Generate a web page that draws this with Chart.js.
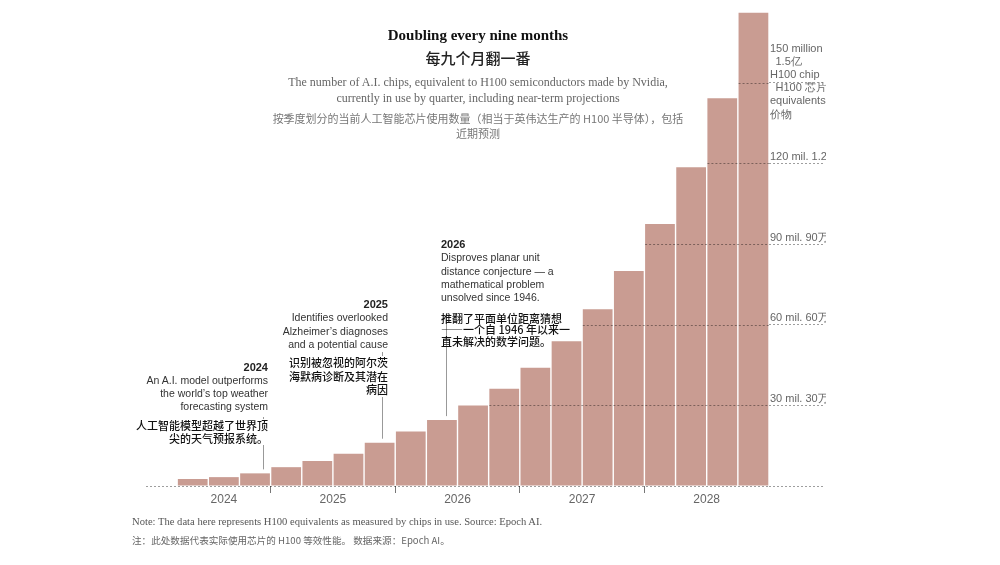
<!DOCTYPE html>
<html lang="zh">
<head>
<meta charset="UTF-8">
<title>Doubling every nine months</title>
<script src="https://cdn.jsdelivr.net/npm/chart.js@4.4.1/dist/chart.umd.min.js"></script>
<style>
    body { margin: 0; background: #fff; }
    #wrap { position: relative; width: 1000px; height: 565px; overflow: hidden; font-family: 'Liberation Sans', Arial, sans-serif; }
    #chart { position: absolute; left: 0; top: 0; }
    .t { position: absolute; white-space: nowrap; }
    .head { left: 0; width: 956px; text-align: center; }
    #title { top: 26px; font: bold 15px/18px 'Liberation Serif', serif; color: #111; }
    #title-zh { top: 48px; font: 500 15px/20px 'Noto Sans CJK SC', sans-serif; color: #222; }
    #sub { top: 74px; font: 12px/16px 'Liberation Serif', serif; color: #666; }
    #sub-zh { top: 111px; font: 11px/15px 'Noto Sans CJK SC', sans-serif; color: #777; }
    .en { font-size: 10.5px; color: #333; }
    .en b { color: #222; font-size: 11px; }
    .zh { font: 500 11px 'Noto Sans CJK SC', sans-serif; color: #111; background: #fff; }
    .note { left: 132px; font-family: 'Liberation Serif', serif; color: #555; }
    #note { top: 514px; font-size: 10.6px; line-height: 15px; }
    #note-zh { top: 533px; font: 9.6px/14px 'Noto Sans CJK SC', sans-serif; color: #666; }
</style>
</head>
<body>
<div id="wrap">
    <canvas id="chart" width="826" height="565"></canvas>

    <div class="t head" id="title">Doubling every nine months</div>
    <div class="t head" id="title-zh">每九个月翻一番</div>
    <div class="t head" id="sub">The number of A.I. chips, equivalent to H100 semiconductors made by Nvidia,<br>currently in use by quarter, including near-term projections</div>
    <div class="t head" id="sub-zh">按季度划分的当前人工智能芯片使用数量（相当于英伟达生产的 H100 半导体），包括<br>近期预测</div>

    <div class="t en" style="right:732px; top:361px; line-height:13px; text-align:right;"><b>2024</b><br>An A.I. model outperforms<br>the world’s top weather<br>forecasting system</div>
    <div class="t zh" style="right:732px; top:418.5px; line-height:13px; text-align:right;">人工智能模型超越了世界顶<br>尖的天气预报系统。</div>

    <div class="t en" style="right:612px; top:298px; line-height:13.3px; text-align:right;"><b>2025</b><br>Identifies overlooked<br>Alzheimer’s diagnoses<br>and a potential cause</div>
    <div class="t zh" style="right:612px; top:356px; line-height:13.7px; text-align:right;">识别被忽视的阿尔茨<br>海默病诊断及其潜在<br>病因</div>

    <div class="t en" style="left:441px; top:238px; line-height:13.3px;"><b>2026</b><br>Disproves planar unit<br>distance conjecture — a<br>mathematical problem<br>unsolved since 1946.</div>
    <div class="t zh" style="left:441px; top:312.5px; line-height:11.7px; background:none;">推翻了平面单位距离猜想<br>——一个自 1946 年以来一<br>直未解决的数学问题。</div>

    <div class="t note" id="note">Note: The data here represents H100 equivalents as measured by chips in use. Source: Epoch AI.</div>
    <div class="t note" id="note-zh">注：此处数据代表实际使用芯片的 H100 等效性能。 数据来源：Epoch AI。</div>
</div>

<script>
    // H100-equivalent chips in use, millions, by quarter
    const quarters = ['2024 Q2', '2024 Q3', '2024 Q4',
        '2025 Q1', '2025 Q2', '2025 Q3', '2025 Q4',
        '2026 Q1', '2026 Q2', '2026 Q3', '2026 Q4',
        '2027 Q1', '2027 Q2', '2027 Q3', '2027 Q4',
        '2028 Q1', '2028 Q2', '2028 Q3', '2028 Q4'];
    const chips = [2.6, 3.3, 4.7, 7.0, 9.3, 12.0, 16.1, 20.3, 24.5, 29.9,
        36.2, 44.0, 53.8, 65.7, 80.0, 97.4, 118.5, 144.2, 176.0];

    // x axis: year labels and year breaks, in quarter units (0 = 2024 Q1)
    const years = ['2024', '2025', '2026', '2027', '2028'];
    const yearLabelAt = [2, 5.5, 9.5, 13.5, 17.5];
    const yearBreaks = [3.5, 7.5, 11.5, 15.5];

    // y axis ticks
    const yTicks = [0, 30, 60, 90, 120, 150];
    const yTickLabels = ['', '30 mil. 30万', '60 mil. 60万', '90 mil. 90万', '120 mil. 1.2亿',
        ['150 million', '\u20021.5亿', 'H100 chip', '\u2002H100 芯片', 'equivalents', '价物']];

    // annotation leader lines (quarter position)
    const annoAt = [3.25, 7.08, 9.13];
    const annoTop = [417, 352, 318];

    function quarterPos(q) {
        const [y, qq] = q.split(' Q');
        return (parseInt(y) - 2024) * 4 + parseInt(qq) - 1;
    }

    const sans = "'Liberation Sans', Arial, sans-serif";
    const isBlock = v => Array.isArray(yTickLabels[yTicks.indexOf(v)]);

    const partialGrid = {
        id: 'partialGrid',
        afterDatasetsDraw(chart) {
            const { ctx, chartArea, scales: { x, y } } = chart;
            const bars = chart.getDatasetMeta(0).data;
            ctx.save();
            ctx.strokeStyle = 'rgba(0,0,0,0.38)';
            ctx.lineWidth = 1;
            ctx.setLineDash([2, 2]);
            yTicks.forEach(v => {
                let x0 = chartArea.left;
                if (v > 0) {
                    const b = bars[chips.findIndex(c => c >= v)];
                    x0 = b.x - b.width / 2;
                }
                const py = Math.round(y.getPixelForValue(v)) + 0.5;
                ctx.beginPath();
                ctx.moveTo(x0, py);
                ctx.lineTo(chartArea.right, py);
                ctx.stroke();
            });
            // leader lines
            ctx.setLineDash([]);
            ctx.strokeStyle = '#999';
            annoAt.forEach((p, i) => {
                const px = Math.round(x.getPixelForValue(p)) + 0.5;
                const bottom = y.getPixelForValue(chips[Math.round(p) - 1]) - 4;
                ctx.beginPath();
                ctx.moveTo(px, annoTop[i]);
                ctx.lineTo(px, bottom);
                ctx.stroke();
            });
            ctx.restore();
        }
    };

    new Chart(document.getElementById('chart'), {
        type: 'bar',
        data: {
            datasets: [{
                data: quarters.map((q, i) => ({ x: quarterPos(q), y: chips[i] })),
                backgroundColor: '#c99c92',
                borderWidth: 0,
                barPercentage: 0.955,
                categoryPercentage: 1
            }]
        },
        options: {
            responsive: false,
            animation: false,
            layout: { padding: { left: 146, top: 2, right: 0, bottom: 49 } },
            plugins: { legend: { display: false }, tooltip: { enabled: false } },
            scales: {
                x: {
                    type: 'linear',
                    min: -0.5,
                    max: 19.5,
                    offset: false,
                    afterBuildTicks: s => {
                        s.ticks = yearLabelAt.concat(yearBreaks).sort((a, b) => a - b).map(v => ({ value: v }));
                    },
                    afterFit: s => { s.height = 30; },
                    border: { display: false },
                    grid: {
                        offset: false,
                        drawOnChartArea: false,
                        tickLength: 7,
                        color: c => (c.tick && yearBreaks.includes(c.tick.value)) ? '#777' : 'rgba(0,0,0,0)'
                    },
                    ticks: {
                        autoSkip: false,
                        maxRotation: 0,
                        padding: -1,
                        color: '#666',
                        font: { family: sans, size: 12 },
                        callback: v => {
                            const i = yearLabelAt.indexOf(v);
                            return i >= 0 ? years[i] : '';
                        }
                    }
                },
                y: {
                    position: 'right',
                    min: 0,
                    max: 180,
                    afterBuildTicks: s => { s.ticks = yTicks.map(v => ({ value: v })); },
                    afterFit: s => { s.width = 57; },
                    border: { display: false },
                    grid: {
                        drawOnChartArea: false,
                        tickLength: 56,
                        color: 'rgba(0,0,0,0.38)',
                        tickBorderDash: [2, 2]
                    },
                    ticks: {
                        autoSkip: false,
                        padding: -55,
                        labelOffset: -1,
                        color: '#666',
                        // single labels get an empty second line so they sit just above their gridline
                        font: c => ({ family: sans, size: 11, lineHeight: (c.tick && isBlock(c.tick.value)) ? 1.2 : 1.0 }),
                        callback: v => {
                            const l = yTickLabels[yTicks.indexOf(v)];
                            return Array.isArray(l) ? l : [l, ''];
                        }
                    }
                }
            }
        },
        plugins: [partialGrid]
    });
</script>
</body>
</html>
